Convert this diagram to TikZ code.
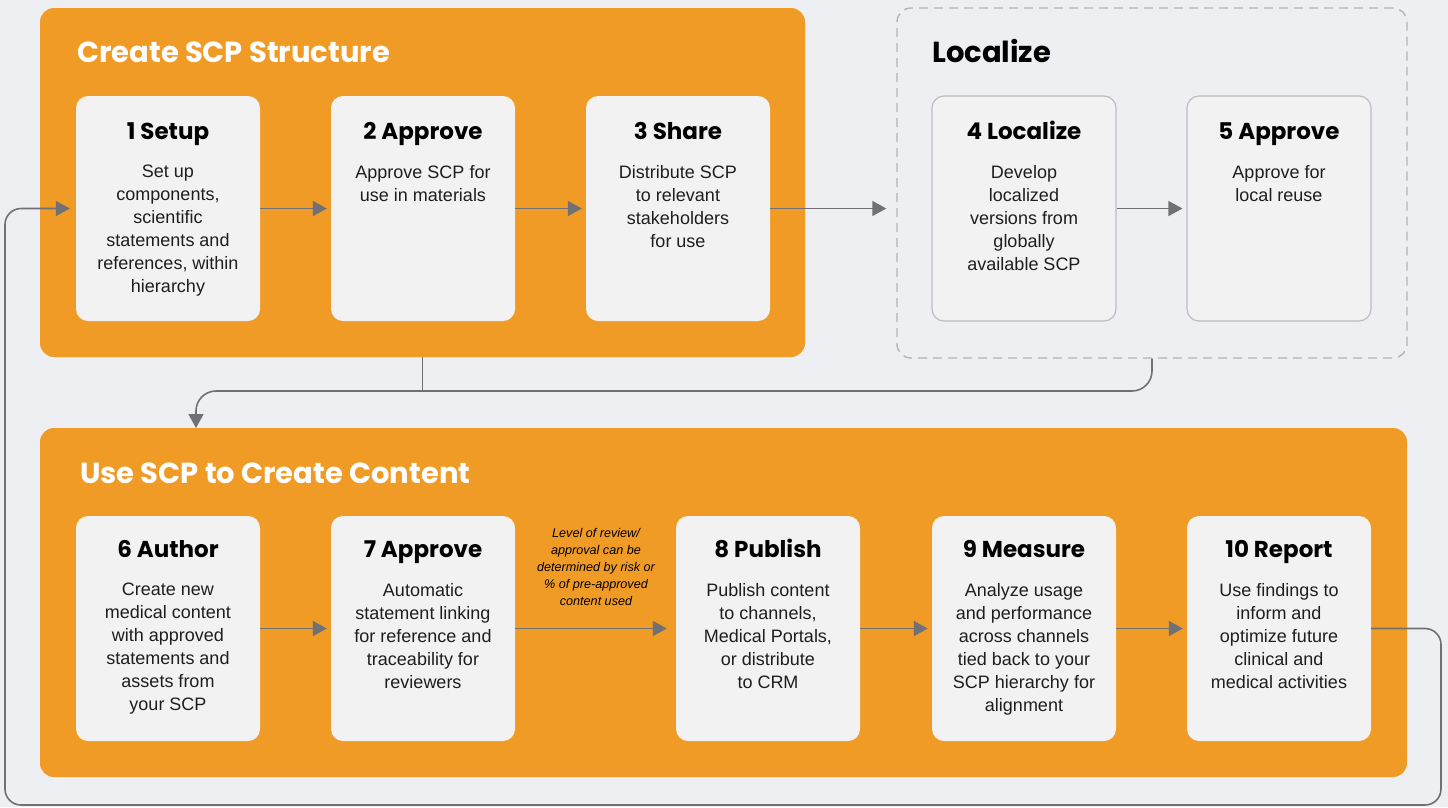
\documentclass[tikz,border=0pt]{standalone}
\usepackage{fontspec}
\setmainfont{Liberation Sans}
\newfontfamily\headfont{Poppins}
\usetikzlibrary{arrows.meta}
\definecolor{scporange}{HTML}{F09B25}
\definecolor{pagebg}{HTML}{EEEFF3}
\definecolor{cardfill}{HTML}{F2F2F2}
\definecolor{linegray}{HTML}{707075}
\definecolor{dashgray}{HTML}{B4B4B8}
\definecolor{bordergray}{HTML}{BDBDC1}
\definecolor{bodyink}{HTML}{1E1E1E}

\tikzset{
  panel/.style={rectangle,rounded corners=14pt,fill=scporange,inner sep=0pt},
  card/.style={rectangle,rounded corners=12pt,fill=cardfill,inner sep=0pt,
    minimum width=184pt,minimum height=225pt},
  localcard/.style={card,draw=bordergray,line width=1.2pt},
  sectiontitle/.style={anchor=base west,inner sep=0pt,
    font=\headfont\bfseries\fontsize{29pt}{32pt}\selectfont},
  cardtitle/.style={anchor=base,inner sep=0pt,
    font=\headfont\bfseries\fontsize{23pt}{26pt}\selectfont},
  cardbody/.style={anchor=north,inner sep=0pt,align=center,text=bodyink,
    font=\fontsize{18pt}{23pt}\selectfont},
  note/.style={inner sep=0pt,align=center,
    font=\itshape\fontsize{12.6pt}{17pt}\selectfont},
  flow/.style={draw=linegray,line width=1.6pt,
    -{Triangle[length=14pt,width=15pt]}},
  wire/.style={draw=linegray,line width=1.6pt}
}

\begin{document}
\begin{tikzpicture}[x=1pt,y=-1pt]
  \fill[pagebg] (0,0) rectangle (1448,807);
  \useasboundingbox (0,0) rectangle (1448,807);

  % panels
  \node[panel,minimum width=765pt,minimum height=349pt] (structure) at (422.5,182.5) {};
  \node[rectangle,rounded corners=14pt,draw=dashgray,line width=1.4pt,
    dash pattern=on 9pt off 6pt,minimum width=510pt,minimum height=350pt] (localize) at (1152,183) {};
  \node[panel,minimum width=1367pt,minimum height=349pt] (content) at (723.5,602.5) {};

  \node[sectiontitle,text=white] (t1) at (77,62) {Create SCP Structure};
  \node[sectiontitle] (t2) at (932,62) {Localize};
  \node[sectiontitle,text=white] (t3) at (80,483) {Use SCP to Create Content};

  % top row
  \node[card] (s1) at (168,208.5) {};
  \node[cardtitle] (s1t) at (168,139.5) {1 Setup};
  \node[cardbody] (s1b) at (168,165) {Set up\\components,\\scientific\\statements and\\references, within\\hierarchy};

  \node[card] (s2) at (423,208.5) {};
  \node[cardtitle] (s2t) at (423,139.5) {2 Approve};
  \node[cardbody] (s2b) at (423,165) {Approve SCP for\\use in materials};

  \node[card] (s3) at (678,208.5) {};
  \node[cardtitle] (s3t) at (678,139.5) {3 Share};
  \node[cardbody] (s3b) at (678,165) {Distribute SCP\\to relevant\\stakeholders\\for use};

  \node[localcard] (s4) at (1024,208.5) {};
  \node[cardtitle] (s4t) at (1024,139.5) {4 Localize};
  \node[cardbody] (s4b) at (1024,165) {Develop\\localized\\versions from\\globally\\available SCP};

  \node[localcard] (s5) at (1279,208.5) {};
  \node[cardtitle] (s5t) at (1279,139.5) {5 Approve};
  \node[cardbody] (s5b) at (1279,165) {Approve for\\local reuse};

  % bottom row
  \node[card] (r6) at (168,628.5) {};
  \node[cardtitle] (r6t) at (168,557.5) {6 Author};
  \node[cardbody] (r6b) at (168,583) {Create new\\medical content\\with approved\\statements and\\assets from\\your SCP};

  \node[card] (r7) at (423,628.5) {};
  \node[cardtitle] (r7t) at (423,557.5) {7 Approve};
  \node[cardbody] (r7b) at (423,583) {Automatic\\statement linking\\for reference and\\traceability for\\reviewers};

  \node[card] (r8) at (768,628.5) {};
  \node[cardtitle] (r8t) at (768,557.5) {8 Publish};
  \node[cardbody] (r8b) at (768,583) {Publish content\\to channels,\\Medical Portals,\\or distribute\\to CRM};

  \node[card] (r9) at (1024,628.5) {};
  \node[cardtitle] (r9t) at (1024,557.5) {9 Measure};
  \node[cardbody] (r9b) at (1024,583) {Analyze usage\\and performance\\across channels\\tied back to your\\SCP hierarchy for\\alignment};

  \node[card] (r10) at (1279,628.5) {};
  \node[cardtitle] (r10t) at (1279,557.5) {10 Report};
  \node[cardbody] (r10b) at (1279,583) {Use findings to\\inform and\\optimize future\\clinical and\\medical activities};

  \node[note] (review) at (596,567) {Level of review/\\approval can be\\determined by risk or\\\% of pre-approved\\content used};

  % connectors
  \draw[flow,shorten >=4pt] (s1) -- (s2);
  \draw[flow,shorten >=4pt] (s2) -- (s3);
  \draw[flow,shorten >=10pt] (s3.east) -- (s3.east -| localize.west);
  \draw[flow,shorten >=4pt] (s4) -- (s5);

  \draw[flow,shorten >=4pt] (r6) -- (r7);
  \draw[flow,shorten >=9pt] (r7) -- (r8);
  \draw[flow,shorten >=4pt] (r8) -- (r9);
  \draw[flow,shorten >=4pt] (r9) -- (r10);

  \coordinate (join) at (422.5,391);
  \draw[wire] (structure.south) -- (join);
  \draw[flow,rounded corners=20pt] (localize.south) -- (1152,391) -- (196,391) -- (196,428);

  \draw[flow,rounded corners=16pt,shorten >=6pt] (r10.east) -- (1441,628.5) -- (1441,805) -- (5,805) -- (5,208.5) -- (s1.west);
\end{tikzpicture}
\end{document}
